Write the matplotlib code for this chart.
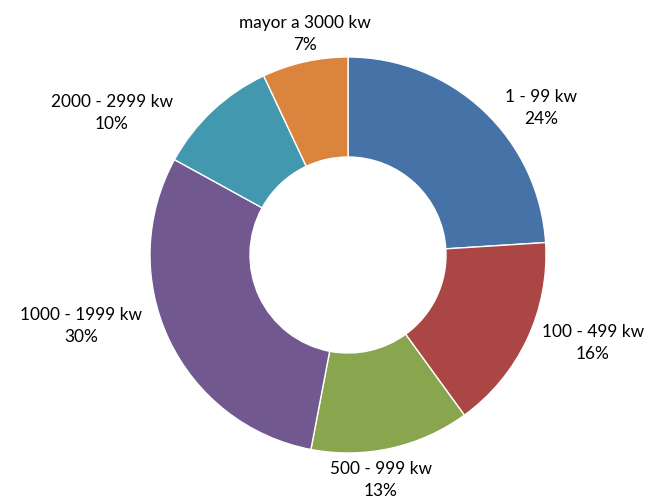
import matplotlib.pyplot as plt

categories = ["1 - 99 kw", "100 - 499 kw", "500 - 999 kw",
              "1000 - 1999 kw", "2000 - 2999 kw", "mayor a 3000 kw"]
shares = [24, 16, 13, 30, 10, 7]
colors = ["#4572A7", "#AA4643", "#89A54E", "#71588F", "#4198AF", "#DB843D"]

# label anchor points (pixels from the ring centre, y up)
label_offsets = [(193, 147), (245, -88), (33, -225), (-267, -71), (-236, 142), (-43, 221)]

W, H = 649, 503
fig = plt.figure(figsize=(W / 100, H / 100), dpi=100)
ax = fig.add_axes([0, 0, 1, 1])

cx, cy = 348, H - 255
R = 198
ax.pie(shares, colors=colors, startangle=90, counterclock=False,
       center=(cx, cy), radius=R, frame=True,
       wedgeprops=dict(width=R - 98, edgecolor="white", linewidth=1.0))
ax.set_xlim(0, W)
ax.set_ylim(0, H)
ax.set_aspect("equal")
ax.axis("off")

for name, val, (dx, dy) in zip(categories, shares, label_offsets):
    ax.text(cx + dx, cy + dy, f"{name}\n{val}%", ha="center", va="center",
            fontsize=12.4, family=["Lato", "DejaVu Sans"], color="#000000",
            linespacing=1.5)

fig.savefig("out.png", dpi=100)
